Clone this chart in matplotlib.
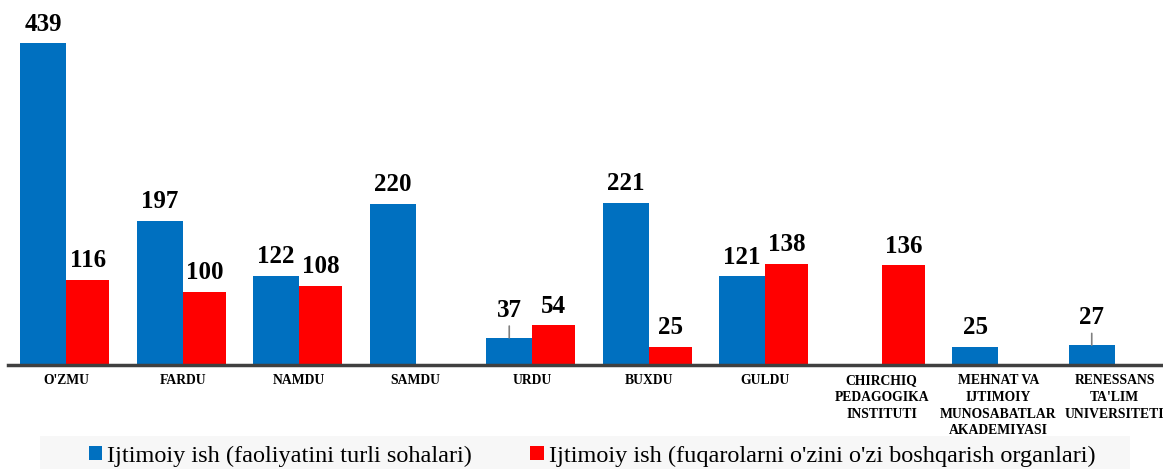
import numpy as np
import matplotlib.pyplot as plt
from matplotlib.patches import Rectangle

# Oliy ta'lim muassasalari
universitetlar = ["O'ZMU", "FARDU", "NAMDU", "SAMDU", "URDU", "BUXDU", "GULDU",
                  "CHIRCHIQ\nPEDAGOGIKA\nINSTITUTI",
                  "MEHNAT VA\nIJTIMOIY\nMUNOSABATLAR\nAKADEMIYASI",
                  "RENESSANS\nTA'LIM\nUNIVERSITETI"]
faoliyat = [439, 197, 122, 220, 37, 221, 121, np.nan, 25, 27]
fuqarolar = [116, 100, 108, np.nan, 54, 25, 138, 136, np.nan, np.nan]
nomlar = ["Ijtimoiy ish (faoliyatini turli sohalari)",
          "Ijtimoiy ish (fuqarolarni o'zini o'zi boshqarish organlari)"]

KOK = '#0070C0'
QIZIL = '#FF0000'

plt.rcParams['font.family'] = ['Liberation Serif', 'DejaVu Serif']

fig = plt.figure(figsize=(11.63, 4.69), dpi=100)
ax = fig.add_axes([8 / 1163, 104 / 469, 1165 / 1163, 352 / 469])

x = np.arange(len(universitetlar))
b1 = ax.bar(x, faoliyat, -0.395, align='edge', color=KOK, label=nomlar[0])
b2 = ax.bar(x, fuqarolar, 0.37, align='edge', color=QIZIL, label=nomlar[1])

# qiymat yorliqlari (ba'zilari yuqoriroq, chiziq bilan)
baland = {4, 9}
for bars, vals, seriya in [(b1, faoliyat, 0), (b2, fuqarolar, 1)]:
    for i, (r, v) in enumerate(zip(bars, vals)):
        if np.isnan(v):
            continue
        cx = r.get_x() + r.get_width() / 2
        dy = 9
        if seriya == 0 and i in baland:
            dy = 15
            ax.annotate('', xy=(cx, v), xytext=(0, 8.5), textcoords='offset points',
                        arrowprops=dict(arrowstyle='-', color='#808080', lw=1.2,
                                        shrinkA=0, shrinkB=0))
        ax.annotate(f'{int(v)}', xy=(cx, v), xytext=(0, dy), textcoords='offset points',
                    ha='center', va='baseline', fontsize=18, fontweight='bold')

ax.set_xlim(-0.5, len(x) - 0.5)
ax.set_ylim(0, 480)
ax.set_xticks(x)
ax.set_xticklabels(universitetlar, fontsize=9.8, fontweight='bold', linespacing=1.38)
ax.tick_params(axis='x', length=0, pad=6.5)
ax.set_yticks([])
for s in ['top', 'right', 'left']:
    ax.spines[s].set_visible(False)
ax.spines['bottom'].set_color('#404040')
ax.spines['bottom'].set_linewidth(2.5)

# legenda foni
fig.patches.append(Rectangle((40 / 1163, 0), 1090 / 1163, 33 / 469,
                             transform=fig.transFigure, facecolor='#f7f7f7',
                             edgecolor='none', zorder=-1))
fig.legend(handles=[b1, b2], loc='center', bbox_to_anchor=(592 / 1163, 1 - 456 / 469),
           ncol=2, fontsize=17.5, frameon=False, handlelength=0.55, handleheight=0.55,
           handletextpad=0.2, columnspacing=2.4, borderaxespad=0)

fig.savefig('out.png', dpi=100)
